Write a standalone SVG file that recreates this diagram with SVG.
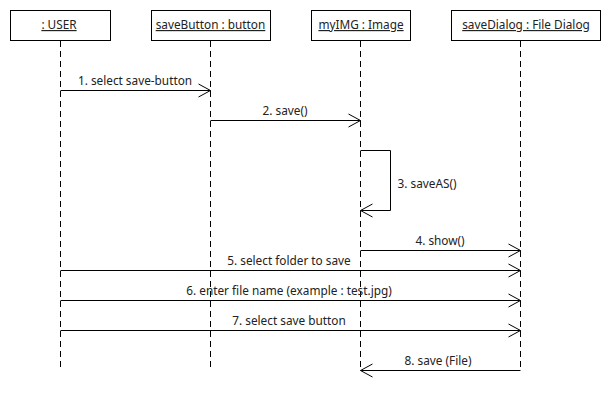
<svg xmlns="http://www.w3.org/2000/svg" width="610" height="400" viewBox="0 0 610 400">
<style>
.box{fill:#fff;stroke:#000;stroke-width:1}
.life{stroke:#000;stroke-width:1;stroke-dasharray:6,4;fill:none}
.msg{stroke:#000;stroke-width:1;fill:none}
.t{font-family:"Noto Sans","Open Sans",sans-serif;font-size:11.8px;fill:#222;text-anchor:middle}
.u{text-decoration:underline}
</style>
<defs>
<marker id="open" viewBox="0 0 14 16" refX="13" refY="8" markerWidth="14" markerHeight="16" markerUnits="userSpaceOnUse" orient="auto">
<path d="M1,1.5 L13,8 L1,14.5" fill="none" stroke="#000" stroke-width="1"/>
</marker>
</defs>
<rect width="610" height="400" fill="#fff"/>
<g id="user">
<rect class="box" x="10.5" y="10.5" width="100" height="30"/>
<text class="t u" x="59" y="29">: USER</text>
<line class="life" x1="60.5" y1="41" x2="60.5" y2="370"/>
</g>
<g id="saveButton">
<rect class="box" x="151.5" y="10.5" width="119" height="30"/>
<text class="t u" x="210.5" y="29">saveButton : button</text>
<line class="life" x1="210.5" y1="41" x2="210.5" y2="370"/>
</g>
<g id="myIMG">
<rect class="box" x="311.5" y="10.5" width="99" height="30"/>
<text class="t u" x="361" y="29">myIMG : Image</text>
<line class="life" x1="360.5" y1="41" x2="360.5" y2="370"/>
</g>
<g id="saveDialog">
<rect class="box" x="451.5" y="10.5" width="149" height="30"/>
<text class="t u" x="526" y="29">saveDialog : File Dialog</text>
<line class="life" x1="520.5" y1="41" x2="520.5" y2="370"/>
</g>
<g id="connectors">
<line class="msg" x1="60.5" y1="90.5" x2="210.5" y2="90.5" marker-end="url(#open)"/>
<text class="t" x="135" y="85">1. select save-button</text>
<line class="msg" x1="210.5" y1="120.5" x2="360.5" y2="120.5" marker-end="url(#open)"/>
<text class="t" x="285" y="115">2. save()</text>
<polyline class="msg" points="360.5,150.5 390.5,150.5 390.5,210.5 360.5,210.5" marker-end="url(#open)"/>
<text class="t" x="427" y="188">3. saveAS()</text>
<line class="msg" x1="360.5" y1="250.5" x2="520.5" y2="250.5" marker-end="url(#open)"/>
<text class="t" x="440" y="245">4. show()</text>
<line class="msg" x1="60.5" y1="270.5" x2="520.5" y2="270.5" marker-end="url(#open)"/>
<text class="t" x="289" y="265">5. select folder to save</text>
<line class="msg" x1="60.5" y1="300.5" x2="520.5" y2="300.5" marker-end="url(#open)"/>
<text class="t" x="289" y="295">6. enter file name (example : test.jpg)</text>
<line class="msg" x1="60.5" y1="330.5" x2="520.5" y2="330.5" marker-end="url(#open)"/>
<text class="t" x="289" y="325">7. select save button</text>
<line class="msg" x1="520.5" y1="370.5" x2="360.5" y2="370.5" marker-end="url(#open)"/>
<text class="t" x="438" y="365">8. save (File)</text>
</g>
</svg>
